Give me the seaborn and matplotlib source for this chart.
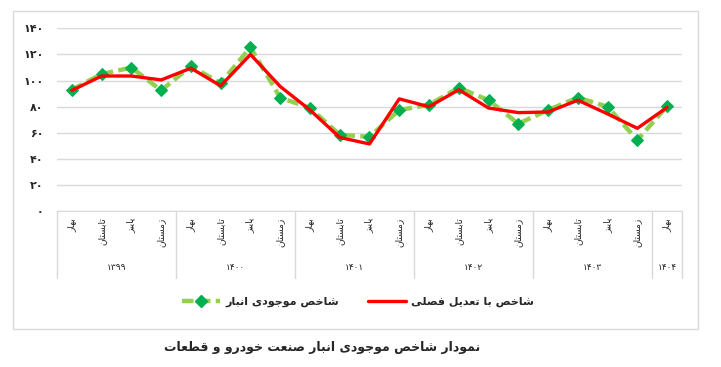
import numpy as np
import pandas as pd
import matplotlib
matplotlib.use('Agg')
import matplotlib.pyplot as plt
import seaborn as sns
from matplotlib.patches import Rectangle
from matplotlib.lines import Line2D

# données
saisons = ['بهار', 'تابستان', 'پاییز', 'زمستان']
annees = ['۱۳۹۹', '۱۴۰۰', '۱۴۰۱', '۱۴۰۲', '۱۴۰۳', '۱۴۰۴']
nb_saisons = [4, 4, 4, 4, 4, 1]
inventaire = [93, 105, 110, 92.5, 111, 98, 125.5, 87, 79, 58.5, 57,
              77.5, 81.5, 94.5, 85, 67, 77.5, 87, 80, 54.5, 80.5]
ajuste = [92.5, 103.5, 103.5, 100.5, 109.5, 96, 120, 95.5, 77.5, 56.5, 51.5,
          86, 80, 93, 79, 75.5, 76, 85, 74.5, 63.5, 79.5]
yticks = [0, 20, 40, 60, 80, 100, 120, 140]
nom_inv = 'شاخص موجودی انبار'
nom_adj = 'شاخص با تعدیل فصلی'
titre = 'نمودار شاخص موجودی انبار صنعت خودرو و قطعات'

# formes contextuelles (isolée, finale, initiale, médiane)
def _f(*codes):
    return tuple(chr(c) for c in codes)

FORMES = {
    'ا': _f(0xFE8D, 0xFE8E), 'ب': _f(0xFE8F, 0xFE90, 0xFE91, 0xFE92),
    'پ': _f(0xFB56, 0xFB57, 0xFB58, 0xFB59), 'ت': _f(0xFE95, 0xFE96, 0xFE97, 0xFE98),
    'ج': _f(0xFE9D, 0xFE9E, 0xFE9F, 0xFEA0), 'خ': _f(0xFEA5, 0xFEA6, 0xFEA7, 0xFEA8),
    'د': _f(0xFEA9, 0xFEAA), 'ر': _f(0xFEAD, 0xFEAE), 'ز': _f(0xFEAF, 0xFEB0),
    'س': _f(0xFEB1, 0xFEB2, 0xFEB3, 0xFEB4), 'ش': _f(0xFEB5, 0xFEB6, 0xFEB7, 0xFEB8),
    'ص': _f(0xFEB9, 0xFEBA, 0xFEBB, 0xFEBC), 'ط': _f(0xFEC1, 0xFEC2, 0xFEC3, 0xFEC4),
    'ع': _f(0xFEC9, 0xFECA, 0xFECB, 0xFECC), 'ف': _f(0xFED1, 0xFED2, 0xFED3, 0xFED4),
    'ق': _f(0xFED5, 0xFED6, 0xFED7, 0xFED8), 'ل': _f(0xFEDD, 0xFEDE, 0xFEDF, 0xFEE0),
    'م': _f(0xFEE1, 0xFEE2, 0xFEE3, 0xFEE4), 'ن': _f(0xFEE5, 0xFEE6, 0xFEE7, 0xFEE8),
    'ه': _f(0xFEE9, 0xFEEA, 0xFEEB, 0xFEEC), 'و': _f(0xFEED, 0xFEEE),
    'ی': _f(0xFBFC, 0xFBFD, 0xFBFE, 0xFBFF),
}

def farsi(txt):
    '''matplotlib ne fait pas le shaping arabe : on choisit les formes puis on inverse'''
    out = []
    for i, ch in enumerate(txt):
        if ch not in FORMES:
            out.append(ch)
            continue
        f = FORMES[ch]
        prev = txt[i - 1] if i > 0 else ''
        nxt = txt[i + 1] if i + 1 < len(txt) else ''
        avant = prev in FORMES and len(FORMES[prev]) == 4
        apres = len(f) == 4 and nxt in FORMES
        if avant and apres:
            out.append(f[3])
        elif apres:
            out.append(f[2])
        elif avant:
            out.append(f[1])
        else:
            out.append(f[0])
    return ''.join(out)[::-1]

def fa_num(n):
    return str(n).translate(str.maketrans('0123456789', '۰۱۲۳۴۵۶۷۸۹'))

sns.set_style('white')
plt.rcParams['font.family'] = ['DejaVu Sans']

df = pd.DataFrame({'x': np.arange(len(inventaire)), 'inv': inventaire, 'adj': ajuste})

W, H = 721, 367
fig = plt.figure(figsize=(W / 100, H / 100), dpi=100)
ax = fig.add_axes([57 / W, 1 - 211.3 / H, 625 / W, 183 / H])

sns.lineplot(data=df, x='x', y='adj', ax=ax, color='#FF0000', lw=2.4, zorder=3)
sns.lineplot(data=df, x='x', y='inv', ax=ax, color='#92D050', lw=3.2,
             linestyle=(0, (2.6, 1.2)), marker='D', markersize=6,
             markerfacecolor='#00B050', markeredgecolor='#00B050', zorder=2)

ax.set_xlim(-0.5, len(inventaire) - 0.5)
ax.set_ylim(0, 140)
ax.set_yticks(yticks)
ax.set_yticklabels([fa_num(v) for v in yticks], fontsize=8, fontweight='bold')
ax.tick_params(axis='y', length=0, pad=9.5)
ax.yaxis.grid(True, color='#D9D9D9', lw=1)
ax.set_xticks([])
ax.set_xlabel('')
ax.set_ylabel('')
for s in ['left', 'right', 'top']:
    ax.spines[s].set_visible(False)
ax.spines['bottom'].set_color('#D9D9D9')

# axe des catégories à deux niveaux
tr = ax.get_xaxis_transform()
bas = -(278 - 211.3) / 183
debut = 0
for an, n in zip(annees, nb_saisons):
    ax.plot([debut - 0.5, debut - 0.5], [0, bas], color='#D9D9D9', lw=1,
            transform=tr, clip_on=False)
    for k in range(n):
        ax.text(debut + k, -0.035, farsi(saisons[k]), transform=tr, rotation=90,
                ha='center', va='top', fontsize=6.5, color='#222222')
    ax.text(debut + (n - 1) / 2, -(267 - 211.3) / 183, an, transform=tr,
            ha='center', va='center', fontsize=6.5, color='#222222')
    debut += n
ax.plot([debut - 0.5, debut - 0.5], [0, bas], color='#D9D9D9', lw=1,
        transform=tr, clip_on=False)

# légende
poignees = [
    Line2D([], [], color='#92D050', lw=3.2, linestyle=(0, (2.6, 1.2)), marker='D',
           markersize=6, markerfacecolor='#00B050', markeredgecolor='#00B050'),
    Line2D([], [], color='#FF0000', lw=2.4),
]
fig.legend(poignees, [farsi(nom_inv), farsi(nom_adj)], loc='center',
           bbox_to_anchor=(358 / W, 1 - 302 / H), ncol=2, frameon=False,
           prop={'size': 8, 'weight': 'bold'}, handlelength=3.4,
           columnspacing=2.6, handletextpad=0.5)

# cadre du graphique
fig.patches.append(Rectangle((13 / W, 1 - 329 / H), 685 / W, 318 / H,
                             transform=fig.transFigure, fill=False,
                             edgecolor='#D9D9D9', lw=1))

fig.text(322 / W, 1 - 348 / H, farsi(titre), ha='center', va='center',
         fontsize=9, fontweight='bold')

fig.savefig('out.png', dpi=100)
